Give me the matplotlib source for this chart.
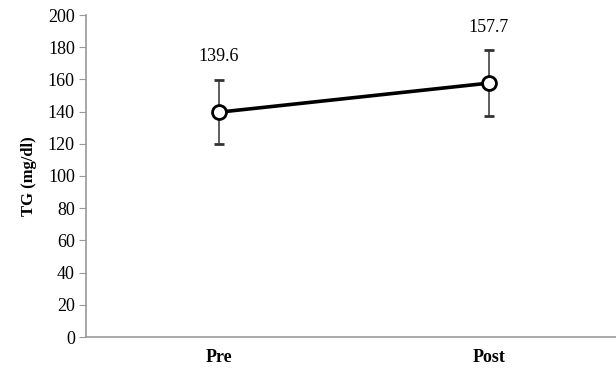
import numpy as np
import matplotlib
matplotlib.use('Agg')
import matplotlib.pyplot as plt

# TG before and after
groups = ['Pre', 'Post']
means = [139.6, 157.7]
errors = [20.0, 20.3]
yticks = list(range(0, 201, 20))

plt.rcParams['font.family'] = ['Liberation Serif', 'DejaVu Serif']

fig = plt.figure(figsize=(6.16, 3.69), dpi=100)
ax = fig.add_axes([86 / 616, 32 / 369, 1 - 86 / 616, 322 / 369])

x = np.arange(len(groups))
ax.errorbar(x, means, yerr=errors, color='black', linewidth=2.6,
            ecolor='#333333', elinewidth=1.1, capsize=3.5, capthick=1.1,
            marker='o', markersize=10, markerfacecolor='white',
            markeredgecolor='black', markeredgewidth=2, zorder=3)

# value labels above each point
for xi, m in zip(x, means):
    ax.annotate(f'{m}', (xi, m), xytext=(0, 40), textcoords='offset points',
                ha='center', va='center', fontsize=13)

ax.set_xlim(-0.49, 1.47)
ax.set_ylim(0, 200)
ax.set_yticks(yticks)
ax.set_xticks(x)
ax.set_xticklabels(groups, fontweight='bold', fontsize=13)
ax.tick_params(axis='x', length=0, pad=9)
ax.tick_params(axis='y', direction='out', length=5, color='#999999',
               labelsize=13, pad=3)
ax.set_ylabel('TG (mg/dl)', fontweight='bold', fontsize=12, labelpad=8)

for side in ['top', 'right']:
    ax.spines[side].set_visible(False)
for side in ['left', 'bottom']:
    ax.spines[side].set_color('#999999')
    ax.spines[side].set_linewidth(1.2)

fig.savefig('out.png', dpi=100)
